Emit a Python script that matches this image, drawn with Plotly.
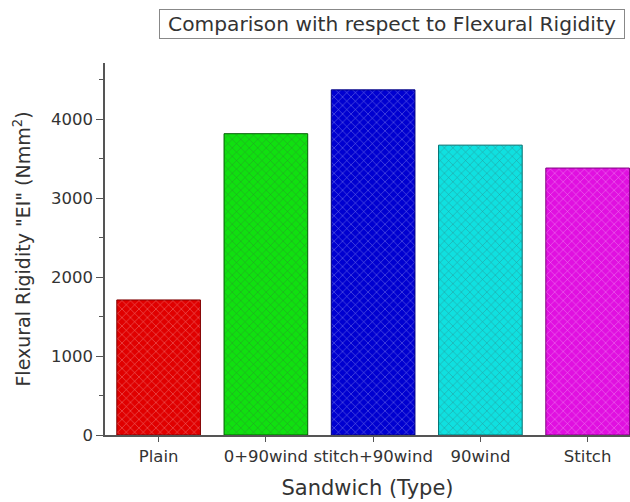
import plotly.graph_objects as go

categories = ["Plain", "0+90wind", "stitch+90wind", "90wind", "Stitch"]
rigidity = [1710, 3815, 4370, 3670, 3380]
bar_colors = ["#e00000", "#10e010", "#0000d0", "#10e0e0", "#e010e0"]
pattern_colors = ["#a00000", "#009000", "#000090", "#009a9a", "#a000a0"]
outline_colors = ["#800000", "#006000", "#000080", "#007070", "#800080"]

FONT = "DejaVu Sans"
AX = "#555555"
TXT = "#333333"

fig = go.Figure()
fig.add_trace(go.Bar(
    x=categories, y=rigidity, width=0.78,
    marker=dict(color=bar_colors,
                line=dict(color=outline_colors, width=1),
                pattern=dict(shape="x", fgcolor=pattern_colors, size=6, solidity=0.15)),
    showlegend=False,
))

fig.update_layout(
    width=630, height=502,
    margin=dict(l=105, r=0, t=63, b=67),
    plot_bgcolor="white", paper_bgcolor="white",
    font=dict(family=FONT, color=TXT),
    xaxis=dict(
        type="category", range=[-0.5, 4.395],
        showline=True, linecolor=AX, linewidth=1.5,
        ticks="outside", ticklen=5, tickcolor=AX,
        tickfont=dict(size=16.5, color=TXT),
        title=dict(text="Sandwich (Type)", font=dict(size=21, color=TXT), standoff=16),
        showgrid=False, zeroline=False,
    ),
    xaxis2=dict(
        overlaying="x", anchor="y", type="linear", range=[-0.5, 4.395],
        tickvals=[0.5, 1.5, 2.5, 3.5], ticks="outside", ticklen=3, tickcolor=AX,
        showticklabels=False, showgrid=False, zeroline=False, showline=False,
    ),
    yaxis=dict(
        range=[0, 4710], tickvals=[0, 1000, 2000, 3000, 4000],
        showline=True, linecolor=AX, linewidth=1.5,
        ticks="outside", ticklen=7, tickcolor=AX,
        minor=dict(dtick=500, tick0=0, ticks="outside", ticklen=4, tickcolor=AX),
        tickfont=dict(size=16.5, color=TXT),
        title=dict(text='Flexural Rigidity "EI" (Nmm<sup>2</sup>)', font=dict(size=19, color=TXT), standoff=15),
        showgrid=False, zeroline=False,
    ),
    annotations=[dict(
        text="Comparison with respect to Flexural Rigidity",
        xref="paper", yref="paper", x=0.5476, y=1.1035,
        xanchor="center", yanchor="middle", showarrow=False,
        font=dict(size=20.2, color=TXT, family=FONT),
        bordercolor="#888888", borderwidth=1, borderpad=1,
        width=462, height=26,
    )],
)

fig.write_html(
    "out.html",
    config={"displayModeBar": False},
    post_script="document.body.style.margin='0';document.body.style.overflow='hidden';",
)
